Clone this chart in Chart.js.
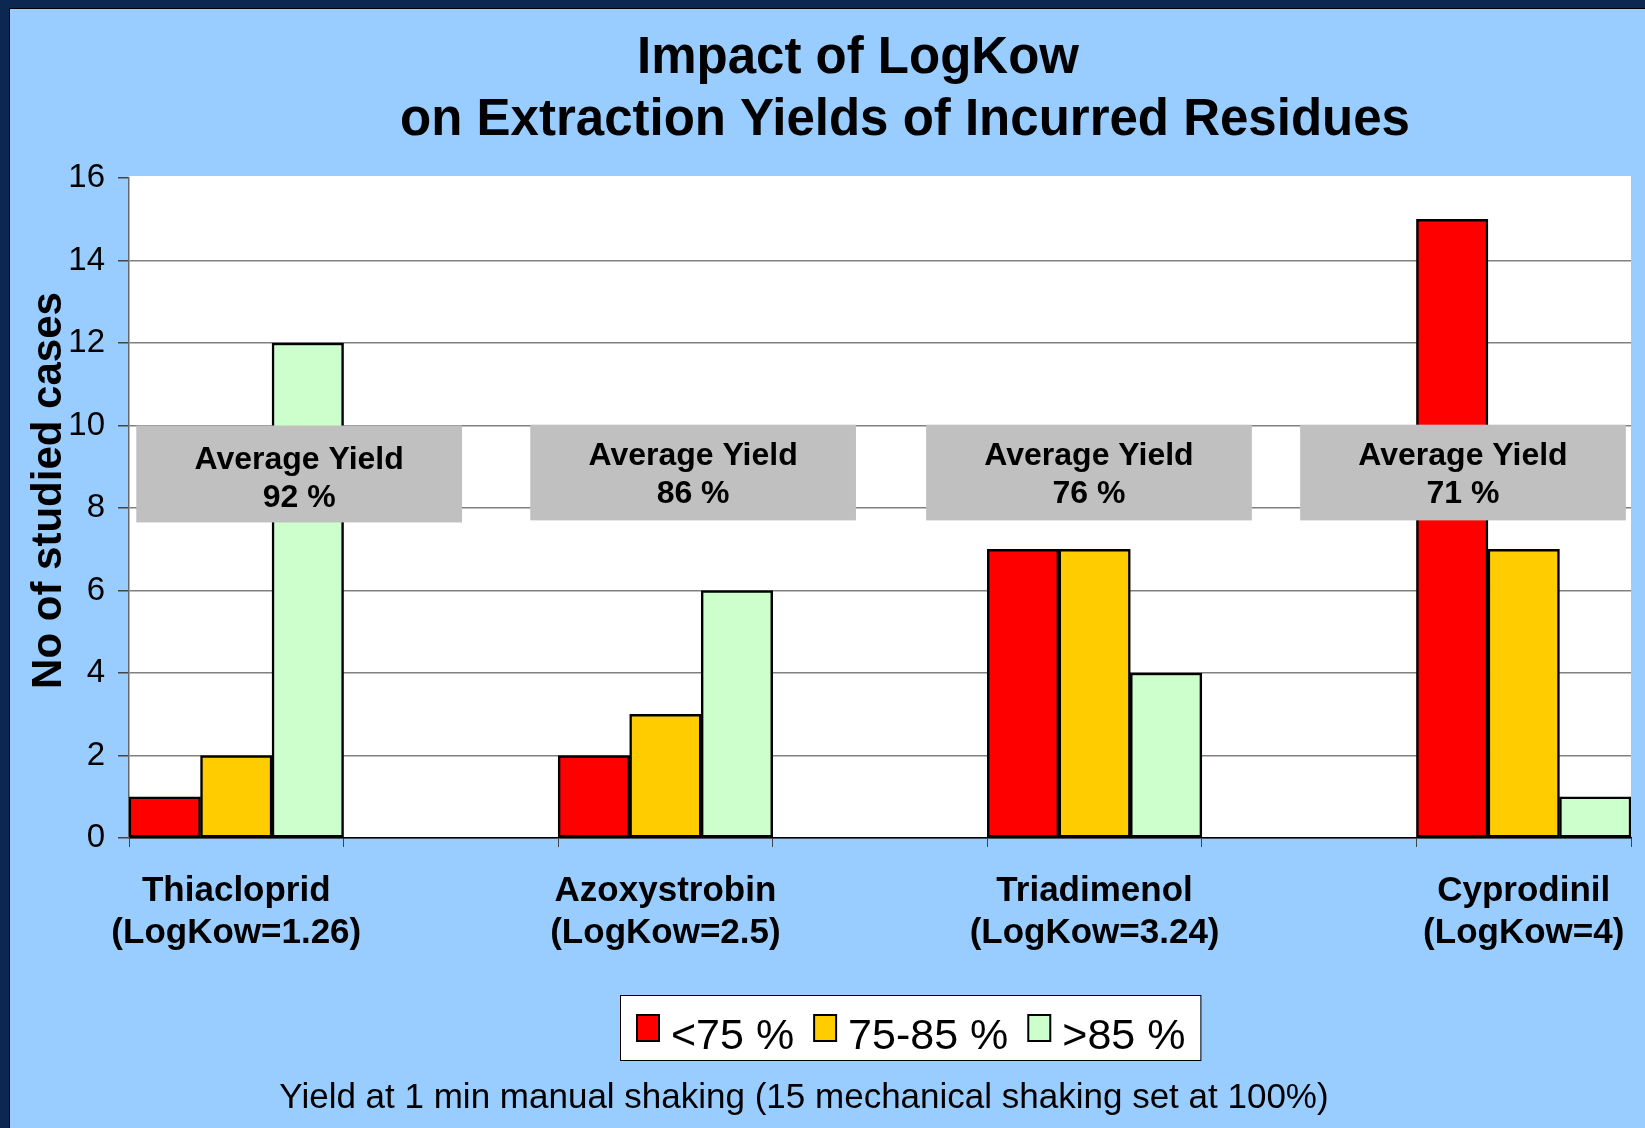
<!DOCTYPE html>
<html>
<head>
<meta charset="utf-8">
<title>Impact of LogKow</title>
<script src="https://cdn.jsdelivr.net/npm/chart.js@4.4.1/dist/chart.umd.min.js"></script>
<style>
  html, body { margin: 0; padding: 0; background: #99CCFF; }
  #wrap { width: 1645px; height: 1128px; }
</style>
</head>
<body>
<div id="wrap"><canvas id="grafica"></canvas></div>
<script>
const compuestos = ['Thiacloprid', 'Azoxystrobin', 'Triadimenol', 'Cyprodinil'];
const logKow = ['1.26', '2.5', '3.24', '4'];
const menos75 = [1, 2, 7, 15];
const entre75y85 = [2, 3, 7, 7];
const mas85 = [12, 6, 4, 1];
const rendimiento = ['92 %', '86 %', '76 %', '71 %'];
const series = ['<75 %', '75-85 %', '>85 %'];
const colores = ['#FF0000', '#FFCC00', '#CCFFCC'];
const ticksY = [0, 2, 4, 6, 8, 10, 12, 14, 16];

// every compound takes one slot followed by an empty slot (the last one has none)
const etiquetas = [];
compuestos.forEach((c, i) => {
  etiquetas.push([c, '(LogKow=' + logKow[i] + ')']);
  if (i < compuestos.length - 1) etiquetas.push('');
});
function conHuecos(valores) {
  const out = [];
  valores.forEach((v, i) => {
    out.push(v);
    if (i < valores.length - 1) out.push(null);
  });
  return out;
}

// grey boxes: left/right in slot units, top/bottom in axis units
const cajas = [
  { x0: -0.466, x1: 1.052, y0: 10, y1: 7.65, dy: 1 },
  { x0: 1.370, x1: 2.888, y0: 10.02, y1: 7.7, dy: -2 },
  { x0: 3.215, x1: 4.733, y0: 10.02, y1: 7.7, dy: -2 },
  { x0: 4.958, x1: 6.476, y0: 10.02, y1: 7.7, dy: -2 }
];

const FUENTE = '"Liberation Sans", Arial, sans-serif';

const fondo = {
  id: 'fondo',
  beforeDraw(chart) {
    const c = chart.ctx;
    const a = chart.chartArea;
    c.save();
    c.fillStyle = '#99CCFF';
    c.fillRect(0, 0, chart.width, chart.height);
    c.fillStyle = '#0C2852';
    c.fillRect(0, 0, chart.width, 8);
    c.fillRect(0, 0, 9, chart.height);
    c.fillStyle = '#000000';
    c.fillRect(9, 8, 1, chart.height);
    c.fillRect(9, 8, chart.width, 1);
    c.fillStyle = '#FFFFFF';
    c.fillRect(a.left, a.top - 2, a.right - a.left, a.bottom - a.top + 2);

    // title
    c.fillStyle = '#000';
    c.font = 'bold 51px ' + FUENTE;
    c.textAlign = 'center';
    c.textBaseline = 'alphabetic';
    c.fillText('Impact of LogKow', 858, 73);
    c.fillText('on Extraction Yields of Incurred Residues', 905, 135);

    // footnote
    c.font = '35px ' + FUENTE;
    c.fillText('Yield at 1 min manual shaking (15 mechanical shaking set at 100%)', 804, 1108);

    // legend
    c.font = '43px ' + FUENTE;
    const lx = 620, ly = 995, lh = 65;
    let ancho = 17;
    series.forEach((s, i) => {
      ancho += 22 + 12 + c.measureText(s).width + (i < series.length - 1 ? 20 : 15);
    });
    c.fillStyle = '#FFFFFF';
    c.fillRect(lx, ly, ancho, lh);
    c.strokeStyle = '#000';
    c.lineWidth = 1;
    c.strokeRect(lx + 0.5, ly + 0.5, ancho, lh);
    let x = lx + 17;
    c.textAlign = 'left';
    series.forEach((s, i) => {
      c.fillStyle = colores[i];
      c.fillRect(x, ly + 20, 22, 26);
      c.lineWidth = 2;
      c.strokeRect(x, ly + 20, 22, 26);
      c.fillStyle = '#000';
      c.fillText(s, x + 34, ly + 54);
      x += 22 + 12 + c.measureText(s).width + 20;
    });
    c.restore();
  },
  afterDatasetsDraw(chart) {
    const c = chart.ctx;
    const xs = chart.scales.x;
    const ys = chart.scales.y;
    const p0 = xs.getPixelForValue(0);
    const paso = xs.getPixelForValue(1) - p0;
    c.save();
    cajas.forEach((b, i) => {
      const left = p0 + b.x0 * paso;
      const right = p0 + b.x1 * paso;
      const top = ys.getPixelForValue(b.y0);
      const bottom = ys.getPixelForValue(b.y1);
      c.fillStyle = '#C0C0C0';
      c.fillRect(left, top, right - left, bottom - top);
      c.fillStyle = '#000';
      c.font = 'bold 32px ' + FUENTE;
      c.textAlign = 'center';
      c.textBaseline = 'alphabetic';
      const cx = (left + right) / 2;
      c.fillText('Average Yield', cx, top + 42 + b.dy);
      c.fillText(rendimiento[i], cx, top + 80 + b.dy);
    });
    c.restore();
  }
};

new Chart(document.getElementById('grafica'), {
  type: 'bar',
  data: {
    labels: etiquetas,
    datasets: [
      { label: series[0], data: conHuecos(menos75), backgroundColor: colores[0] },
      { label: series[1], data: conHuecos(entre75y85), backgroundColor: colores[1] },
      { label: series[2], data: conHuecos(mas85), backgroundColor: colores[2] }
    ].map(d => Object.assign(d, { borderColor: '#000', borderWidth: 2.5, borderSkipped: false }))
  },
  options: {
    responsive: true,
    maintainAspectRatio: false,
    animation: false,
    categoryPercentage: 1,
    barPercentage: 1,
    layout: { padding: { left: 10, right: 14, top: 178, bottom: 160 } },
    plugins: {
      legend: { display: false },
      tooltip: { enabled: false }
    },
    scales: {
      x: {
        offset: true,
        grid: {
          offset: true,
          drawOnChartArea: false,
          drawTicks: true,
          tickLength: 9,
          color: '#444'
        },
        border: { color: '#000', width: 1.5 },
        ticks: {
          color: '#000',
          font: { family: FUENTE, size: 35, weight: 'bold', lineHeight: 1.2 },
          padding: 23,
          maxRotation: 0,
          autoSkip: false
        },
        afterFit(scale) {
          scale.height = 130;
          scale.paddingLeft = 0;
          scale.paddingRight = 0;
        }
      },
      y: {
        min: 0,
        max: 16,
        afterBuildTicks(scale) { scale.ticks = ticksY.map(v => ({ value: v })); },
        grid: {
          color: ctx => (ctx.tick && ctx.tick.value === 16 ? 'rgba(0,0,0,0)' : '#808080'),
          lineWidth: 1.5,
          tickLength: 11,
          tickColor: '#444'
        },
        border: { color: '#666', width: 1.5 },
        ticks: {
          color: '#000',
          font: { family: FUENTE, size: 33 },
          padding: 13
        },
        title: {
          display: true,
          text: '   No of studied cases',
          color: '#000',
          font: { family: FUENTE, size: 42, weight: 'bold' },
          padding: { top: 14, bottom: 0 }
        },
        afterFit(scale) { scale.width = 119; }
      }
    }
  },
  plugins: [fondo]
});
</script>
</body>
</html>
